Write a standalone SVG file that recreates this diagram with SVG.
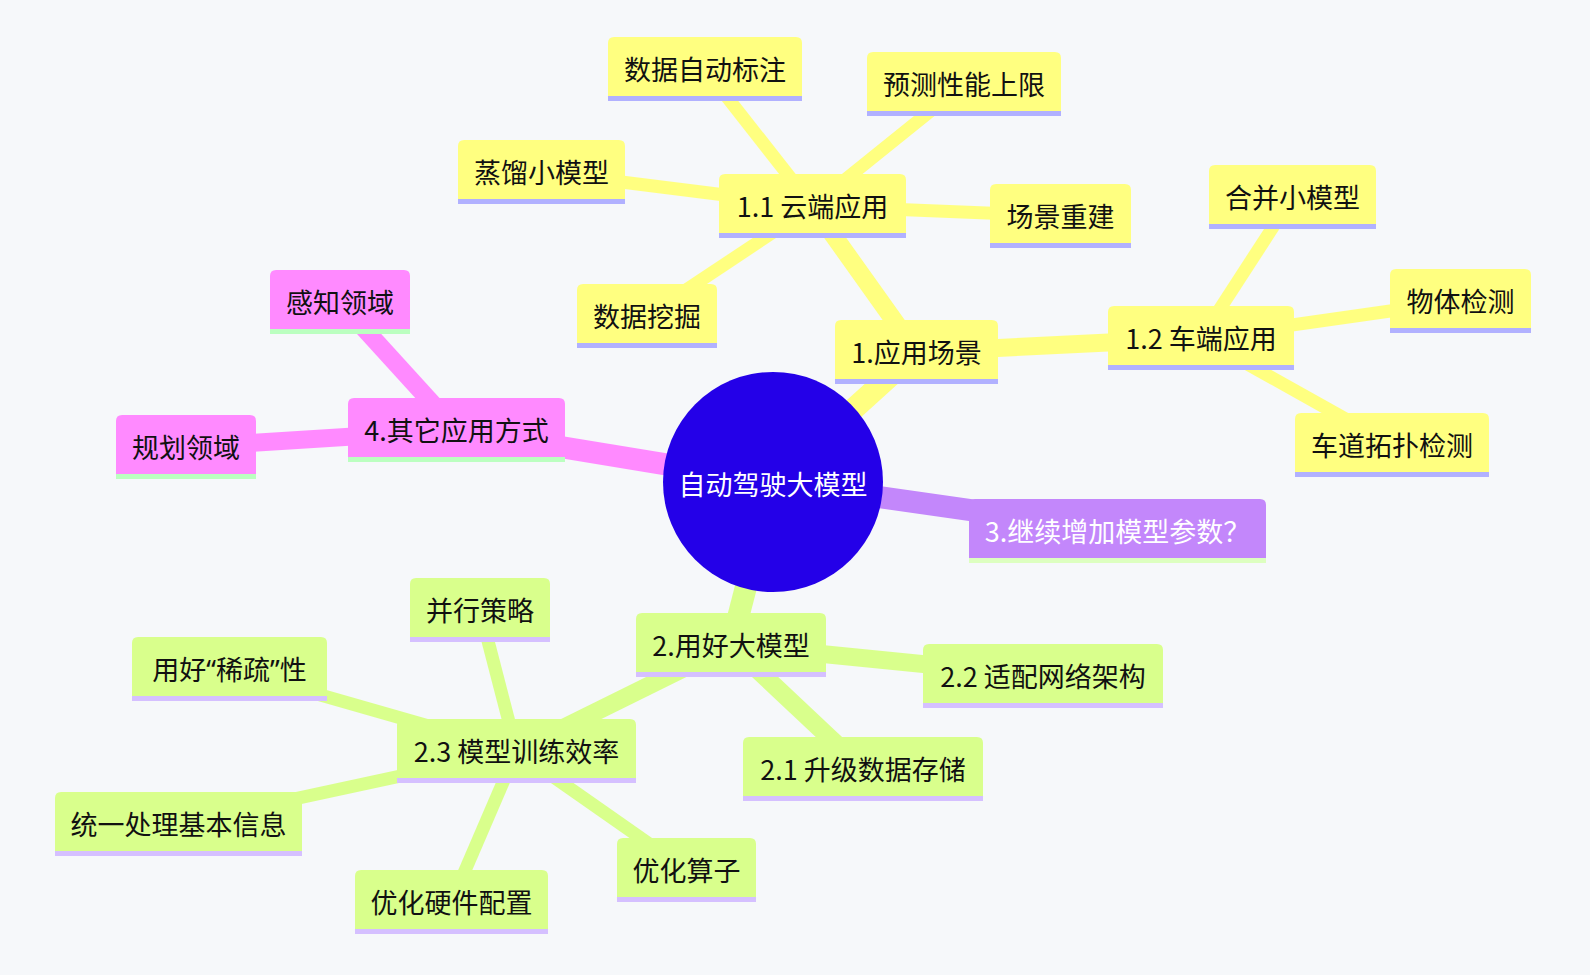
<svg xmlns="http://www.w3.org/2000/svg" width="1590" height="975" viewBox="0 0 1590 975">
<style>
.t{font-family:"Noto Sans CJK SC","Noto Sans",sans-serif;font-size:27px;text-anchor:middle;fill:#111}
.q{font-family:"Noto Sans",sans-serif}
.w{fill:#ffffff}
.y .b{fill:#ffff80}.y .s{fill:#b1b1ff}
.g .b{fill:#d9ff8c}.g .s{fill:#d5c0ff}
.p .b{fill:#ff8aff}.p .s{fill:#bbffc0}
.v .b{fill:#c387fb}.v .s{fill:#ddffc0}
.e{stroke-linecap:butt;fill:none}
.ey{stroke:#ffff80}.eg{stroke:#d9ff8c}.ep{stroke:#ff8aff}.ev{stroke:#c387fb}
.d0{stroke-width:22}.d1{stroke-width:18}.d2{stroke-width:13}
</style>
<rect width="1590" height="975" fill="#f6f8fa"/>
<g id="connectors">
<line class="e ey d0" x1="773" y1="482" x2="916.5" y2="352"/>
<line class="e eg d0" x1="773" y1="482" x2="731" y2="645"/>
<line class="e ev d0" x1="773" y1="482" x2="1117.5" y2="531"/>
<line class="e ep d0" x1="773" y1="482" x2="456.5" y2="430"/>
<line class="e ey d1" x1="916.5" y1="352" x2="812.5" y2="206"/>
<line class="e ey d1" x1="916.5" y1="352" x2="1201" y2="338"/>
<line class="e ey d2" x1="812.5" y1="206" x2="705" y2="69"/>
<line class="e ey d2" x1="812.5" y1="206" x2="964" y2="84"/>
<line class="e ey d2" x1="812.5" y1="206" x2="541.5" y2="172"/>
<line class="e ey d2" x1="812.5" y1="206" x2="1060.5" y2="216"/>
<line class="e ey d2" x1="812.5" y1="206" x2="647" y2="316"/>
<line class="e ey d2" x1="1201" y1="338" x2="1292.5" y2="197"/>
<line class="e ey d2" x1="1201" y1="338" x2="1460.5" y2="301"/>
<line class="e ey d2" x1="1201" y1="338" x2="1392" y2="445"/>
<line class="e eg d1" x1="731" y1="645" x2="1043" y2="676"/>
<line class="e eg d1" x1="731" y1="645" x2="863" y2="769"/>
<line class="e eg d1" x1="731" y1="645" x2="516.5" y2="751"/>
<line class="e eg d2" x1="516.5" y1="751" x2="480" y2="610"/>
<line class="e eg d2" x1="516.5" y1="751" x2="229.5" y2="669"/>
<line class="e eg d2" x1="516.5" y1="751" x2="178.5" y2="824"/>
<line class="e eg d2" x1="516.5" y1="751" x2="451.5" y2="902"/>
<line class="e eg d2" x1="516.5" y1="751" x2="686.5" y2="870"/>
<line class="e ep d1" x1="456.5" y1="430" x2="340" y2="302"/>
<line class="e ep d1" x1="456.5" y1="430" x2="186" y2="447"/>
</g>
<g id="root"><circle cx="773" cy="482" r="110" fill="#2400e8"/><text class="t w" x="773" y="495">自动驾驶大模型</text></g>
<g id="n1" class="y"><path class="b" d="M835,379V326Q835,320 841,320H992Q998,320 998,326V379Z"/><rect class="s" x="835" y="379" width="163" height="5"/><text class="t" x="916.5" y="363">1.应用场景</text></g>
<g id="n11" class="y"><path class="b" d="M719,233V180Q719,174 725,174H900Q906,174 906,180V233Z"/><rect class="s" x="719" y="233" width="187" height="5"/><text class="t" x="812.5" y="217">1.1 云端应用</text></g>
<g id="n12" class="y"><path class="b" d="M1108,365V312Q1108,306 1114,306H1288Q1294,306 1294,312V365Z"/><rect class="s" x="1108" y="365" width="186" height="5"/><text class="t" x="1201" y="349">1.2 车端应用</text></g>
<g id="a1" class="y"><path class="b" d="M608,96V43Q608,37 614,37H796Q802,37 802,43V96Z"/><rect class="s" x="608" y="96" width="194" height="5"/><text class="t" x="705" y="80">数据自动标注</text></g>
<g id="a2" class="y"><path class="b" d="M867,111V58Q867,52 873,52H1055Q1061,52 1061,58V111Z"/><rect class="s" x="867" y="111" width="194" height="5"/><text class="t" x="964" y="95">预测性能上限</text></g>
<g id="a3" class="y"><path class="b" d="M458,199V146Q458,140 464,140H619Q625,140 625,146V199Z"/><rect class="s" x="458" y="199" width="167" height="5"/><text class="t" x="541.5" y="183">蒸馏小模型</text></g>
<g id="a4" class="y"><path class="b" d="M990,243V190Q990,184 996,184H1125Q1131,184 1131,190V243Z"/><rect class="s" x="990" y="243" width="141" height="5"/><text class="t" x="1060.5" y="227">场景重建</text></g>
<g id="a5" class="y"><path class="b" d="M577,343V290Q577,284 583,284H711Q717,284 717,290V343Z"/><rect class="s" x="577" y="343" width="140" height="5"/><text class="t" x="647" y="327">数据挖掘</text></g>
<g id="b1" class="y"><path class="b" d="M1209,224V171Q1209,165 1215,165H1370Q1376,165 1376,171V224Z"/><rect class="s" x="1209" y="224" width="167" height="5"/><text class="t" x="1292.5" y="208">合并小模型</text></g>
<g id="b2" class="y"><path class="b" d="M1390,328V275Q1390,269 1396,269H1525Q1531,269 1531,275V328Z"/><rect class="s" x="1390" y="328" width="141" height="5"/><text class="t" x="1460.5" y="312">物体检测</text></g>
<g id="b3" class="y"><path class="b" d="M1295,472V419Q1295,413 1301,413H1483Q1489,413 1489,419V472Z"/><rect class="s" x="1295" y="472" width="194" height="5"/><text class="t" x="1392" y="456">车道拓扑检测</text></g>
<g id="n2" class="g"><path class="b" d="M636,672V619Q636,613 642,613H820Q826,613 826,619V672Z"/><rect class="s" x="636" y="672" width="190" height="5"/><text class="t" x="731" y="656">2.用好大模型</text></g>
<g id="n22" class="g"><path class="b" d="M923,703V650Q923,644 929,644H1157Q1163,644 1163,650V703Z"/><rect class="s" x="923" y="703" width="240" height="5"/><text class="t" x="1043" y="687">2.2 适配网络架构</text></g>
<g id="n21" class="g"><path class="b" d="M743,796V743Q743,737 749,737H977Q983,737 983,743V796Z"/><rect class="s" x="743" y="796" width="240" height="5"/><text class="t" x="863" y="780">2.1 升级数据存储</text></g>
<g id="n23" class="g"><path class="b" d="M397,778V725Q397,719 403,719H630Q636,719 636,725V778Z"/><rect class="s" x="397" y="778" width="239" height="5"/><text class="t" x="516.5" y="762">2.3 模型训练效率</text></g>
<g id="c1" class="g"><path class="b" d="M410,637V584Q410,578 416,578H544Q550,578 550,584V637Z"/><rect class="s" x="410" y="637" width="140" height="5"/><text class="t" x="480" y="621">并行策略</text></g>
<g id="c2" class="g"><path class="b" d="M132,696V643Q132,637 138,637H321Q327,637 327,643V696Z"/><rect class="s" x="132" y="696" width="195" height="5"/><text class="t" x="229.5" y="680">用好<tspan class="q">“</tspan>稀疏<tspan class="q">”</tspan>性</text></g>
<g id="c3" class="g"><path class="b" d="M55,851V798Q55,792 61,792H296Q302,792 302,798V851Z"/><rect class="s" x="55" y="851" width="247" height="5"/><text class="t" x="178.5" y="835">统一处理基本信息</text></g>
<g id="c4" class="g"><path class="b" d="M355,929V876Q355,870 361,870H542Q548,870 548,876V929Z"/><rect class="s" x="355" y="929" width="193" height="5"/><text class="t" x="451.5" y="913">优化硬件配置</text></g>
<g id="c5" class="g"><path class="b" d="M617,897V844Q617,838 623,838H750Q756,838 756,844V897Z"/><rect class="s" x="617" y="897" width="139" height="5"/><text class="t" x="686.5" y="881">优化算子</text></g>
<g id="n4" class="p"><path class="b" d="M348,457V404Q348,398 354,398H559Q565,398 565,404V457Z"/><rect class="s" x="348" y="457" width="217" height="5"/><text class="t" x="456.5" y="441">4.其它应用方式</text></g>
<g id="d1" class="p"><path class="b" d="M270,329V276Q270,270 276,270H404Q410,270 410,276V329Z"/><rect class="s" x="270" y="329" width="140" height="5"/><text class="t" x="340" y="313">感知领域</text></g>
<g id="d2" class="p"><path class="b" d="M116,474V421Q116,415 122,415H250Q256,415 256,421V474Z"/><rect class="s" x="116" y="474" width="140" height="5"/><text class="t" x="186" y="458">规划领域</text></g>
<g id="n3" class="v"><path class="b" d="M969,558V505Q969,499 975,499H1260Q1266,499 1266,505V558Z"/><rect class="s" x="969" y="558" width="297" height="5"/><text class="t w" x="1117.5" y="542">3.继续增加模型参数？</text></g>
</svg>
